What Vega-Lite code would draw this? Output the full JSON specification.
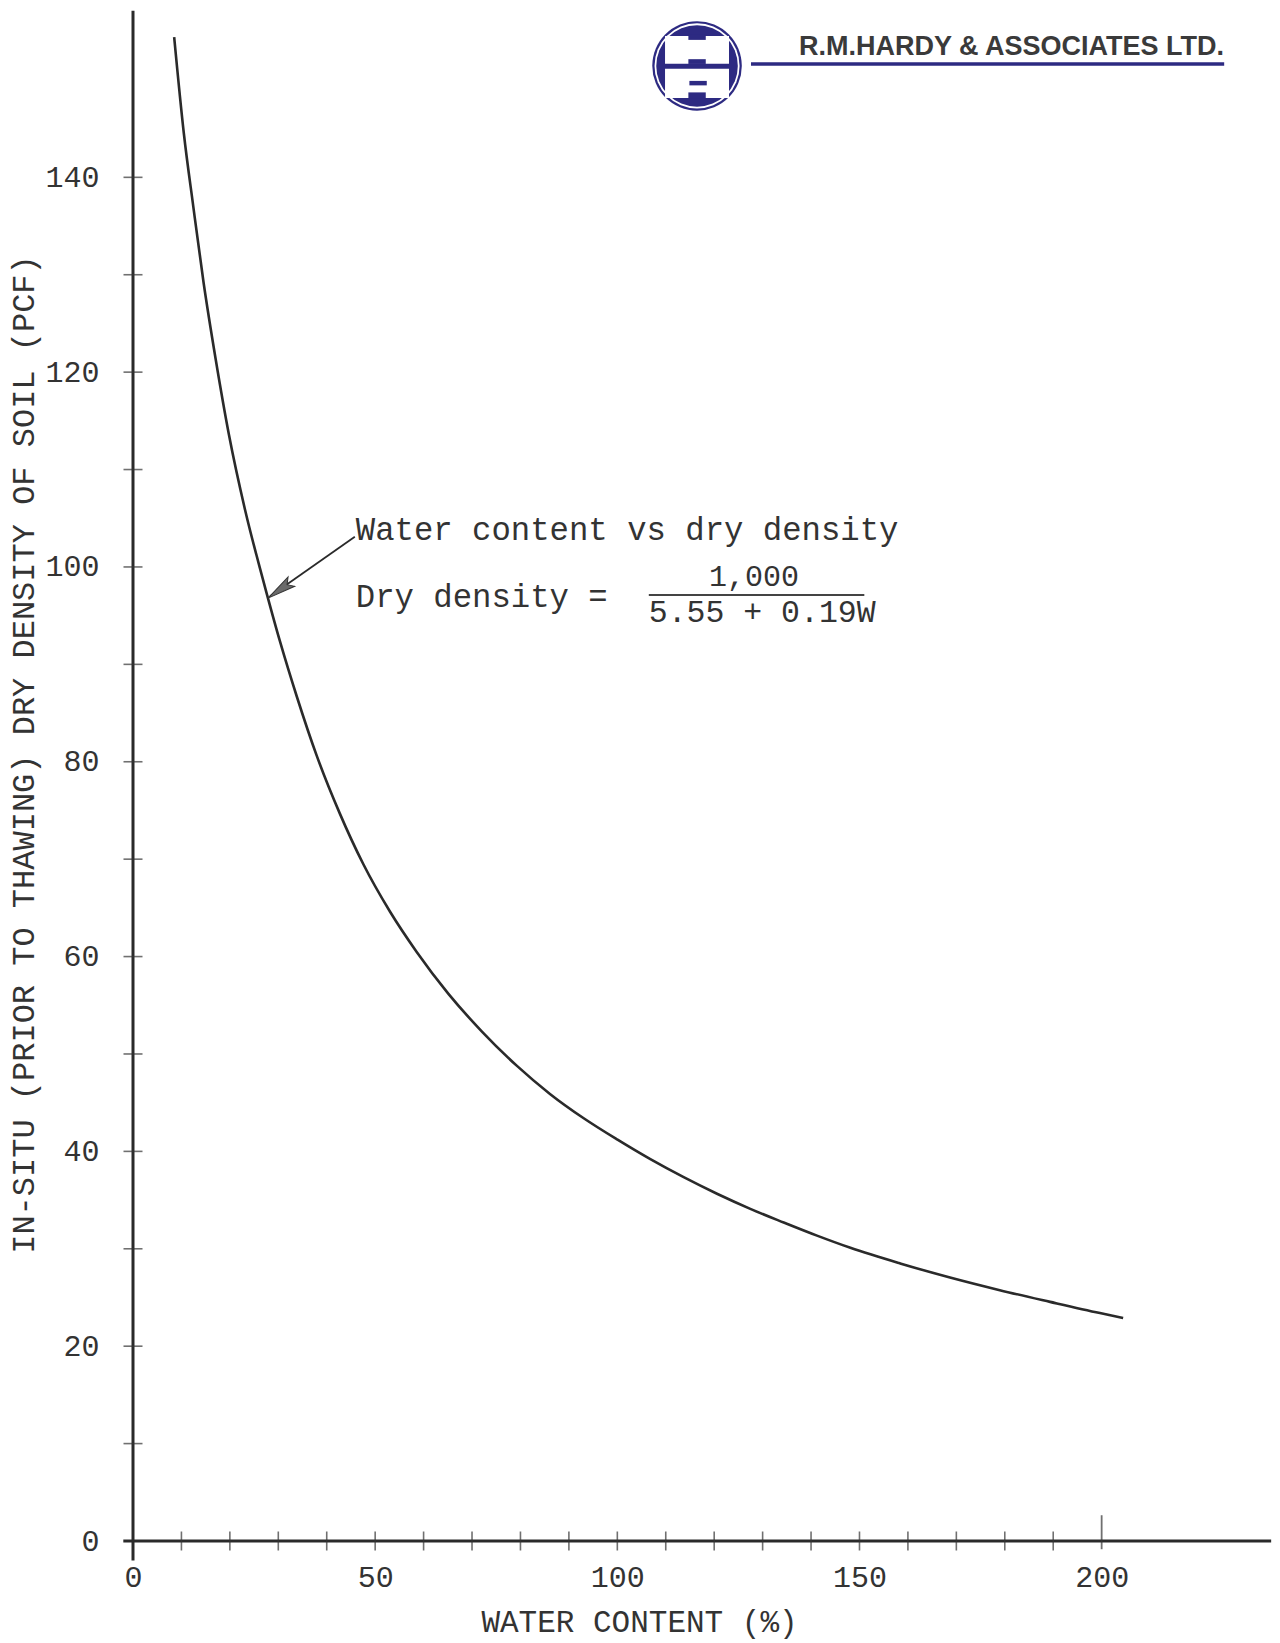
{
  "$schema": "https://vega.github.io/schema/vega-lite/v6.json",
  "width": 1143,
  "height": 1539,
  "autosize": {"type": "none"},
  "padding": {"left": 133, "top": 2, "right": 4, "bottom": 102},
  "background": "white",
  "config": {"view": {"stroke": null}, "font": "Liberation Mono"},
  "data": {"values": [{}]},
  "datasets": {
    "curve": [
      {"w": 8.5, "dens": 154.4},
      {"w": 10.5, "dens": 144.5},
      {"w": 12.45, "dens": 137.0},
      {"w": 14.57, "dens": 129.2},
      {"w": 17.08, "dens": 121.3},
      {"w": 19.8, "dens": 113.6},
      {"w": 23.12, "dens": 105.9},
      {"w": 26.84, "dens": 98.7},
      {"w": 30.38, "dens": 92.3},
      {"w": 33.82, "dens": 86.7},
      {"w": 37.95, "dens": 80.6},
      {"w": 42.69, "dens": 74.7},
      {"w": 47.54, "dens": 69.5},
      {"w": 53.08, "dens": 64.6},
      {"w": 58.54, "dens": 60.5},
      {"w": 65.09, "dens": 56.2},
      {"w": 72.05, "dens": 52.3},
      {"w": 79.22, "dens": 48.8},
      {"w": 86.09, "dens": 45.9},
      {"w": 93.06, "dens": 43.4},
      {"w": 100.04, "dens": 41.2},
      {"w": 106.82, "dens": 39.2},
      {"w": 113.7, "dens": 37.35},
      {"w": 120.58, "dens": 35.65},
      {"w": 127.46, "dens": 34.1},
      {"w": 134.35, "dens": 32.7},
      {"w": 141.23, "dens": 31.35},
      {"w": 148.12, "dens": 30.1},
      {"w": 158.4, "dens": 28.5},
      {"w": 168.69, "dens": 27.05},
      {"w": 178.97, "dens": 25.75},
      {"w": 189.36, "dens": 24.55},
      {"w": 199.65, "dens": 23.4},
      {"w": 204.44, "dens": 22.9}
    ],
    "xticks": [
      {"w": 10}, {"w": 20}, {"w": 30}, {"w": 40}, {"w": 50}, {"w": 60}, {"w": 70},
      {"w": 80}, {"w": 90}, {"w": 100}, {"w": 110}, {"w": 120}, {"w": 130},
      {"w": 140}, {"w": 150}, {"w": 160}, {"w": 170}, {"w": 180}, {"w": 190}
    ],
    "yticks": [
      {"dens": 10}, {"dens": 20}, {"dens": 30}, {"dens": 40}, {"dens": 50},
      {"dens": 60}, {"dens": 70}, {"dens": 80}, {"dens": 90}, {"dens": 100},
      {"dens": 110}, {"dens": 120}, {"dens": 130}, {"dens": 140}
    ],
    "logoWhite": [
      {"left": 109.85, "right": 123.06, "bottom": 151.67, "top": 154.52},
      {"left": 109.85, "right": 123.06, "bottom": 148.15, "top": 151.16}
    ],
    "logoNavy": [
      {"left": 114.67, "right": 118.26, "bottom": 154.11, "top": 154.62},
      {"left": 114.67, "right": 118.26, "bottom": 151.64, "top": 152.13},
      {"left": 114.88, "right": 118.47, "bottom": 149.44, "top": 149.9},
      {"left": 114.67, "right": 118.26, "bottom": 148.05, "top": 148.72}
    ]
  },
  "layer": [
    {
      "data": {"name": "curve"},
      "mark": {"type": "line", "interpolate": "monotone", "color": "#2a2a2a", "strokeWidth": 2.6},
      "encoding": {
        "x": {
          "field": "w",
          "type": "quantitative",
          "scale": {"domain": [0, 236], "nice": false, "zero": false},
          "axis": {
            "title": "WATER CONTENT (%)",
            "values": [0, 50, 100, 150, 200],
            "domain": false,
            "ticks": false,
            "tickSize": 0,
            "grid": false,
            "labelFont": "Liberation Mono",
            "labelFontSize": 30,
            "labelColor": "#333333",
            "labelPadding": 36,
            "labelBaseline": "middle",
            "labelFlush": false,
            "labelOverlap": false,
            "titleFont": "Liberation Mono",
            "titleFontSize": 31,
            "titleFontWeight": "normal",
            "titleColor": "#333333",
            "titleX": 506,
            "titleY": 81,
            "titleAlign": "center",
            "titleBaseline": "middle"
          }
        },
        "y": {
          "field": "dens",
          "type": "quantitative",
          "scale": {"domain": [0, 158], "nice": false, "zero": false},
          "axis": {
            "title": "IN-SITU (PRIOR TO THAWING) DRY DENSITY OF SOIL (PCF)",
            "values": [0, 20, 40, 60, 80, 100, 120, 140],
            "domain": false,
            "ticks": false,
            "tickSize": 0,
            "grid": false,
            "labelFont": "Liberation Mono",
            "labelFontSize": 30,
            "labelColor": "#333333",
            "labelPadding": 34,
            "labelAlign": "right",
            "labelBaseline": "middle",
            "labelFlush": false,
            "labelOverlap": false,
            "titleFont": "Liberation Mono",
            "titleFontSize": 32,
            "titleFontWeight": "normal",
            "titleColor": "#333333",
            "titleAngle": -90,
            "titleX": -110,
            "titleY": 752,
            "titleAlign": "center",
            "titleBaseline": "middle"
          }
        }
      }
    },
    {
      "mark": {"type": "rule", "color": "#2a2a2a", "strokeWidth": 3},
      "encoding": {
        "x": {"datum": 0},
        "y": {"datum": -2},
        "y2": {"datum": 157.1}
      }
    },
    {
      "mark": {"type": "rule", "color": "#2a2a2a", "strokeWidth": 3},
      "encoding": {
        "x": {"datum": -2},
        "x2": {"datum": 235},
        "y": {"datum": 0}
      }
    },
    {
      "data": {"name": "xticks"},
      "mark": {"type": "tick", "orient": "vertical", "size": 19, "thickness": 1.6, "color": "#333333"},
      "encoding": {
        "x": {"field": "w", "type": "quantitative"},
        "y": {"datum": 0}
      }
    },
    {
      "mark": {"type": "tick", "orient": "vertical", "size": 34, "thickness": 1.8, "color": "#333333"},
      "encoding": {
        "x": {"datum": 200},
        "y": {"datum": 0.9}
      }
    },
    {
      "data": {"name": "yticks"},
      "mark": {"type": "tick", "orient": "horizontal", "size": 19, "thickness": 1.6, "color": "#333333"},
      "encoding": {
        "x": {"datum": 0},
        "y": {"field": "dens", "type": "quantitative"}
      }
    },
    {
      "mark": {"type": "rule", "color": "#2a2a2a", "strokeWidth": 1.8},
      "encoding": {
        "x": {"datum": 45.8},
        "y": {"datum": 103.1},
        "x2": {"datum": 28.3},
        "y2": {"datum": 97.0}
      }
    },
    {
      "mark": {
        "type": "point",
        "shape": "M0,-1L0.38,0.9L0,0.55L-0.38,0.9Z",
        "size": 900,
        "angle": 234.7,
        "filled": true,
        "fill": "#6a6a6a",
        "stroke": "#333333",
        "strokeWidth": 1,
        "opacity": 1
      },
      "encoding": {
        "x": {"datum": 30.42},
        "y": {"datum": 97.69}
      }
    },
    {
      "mark": {"type": "text", "text": "Water content vs dry density", "align": "left", "baseline": "alphabetic", "font": "Liberation Mono", "fontSize": 32.3, "color": "#333333"},
      "encoding": {"x": {"datum": 46.0}, "y": {"datum": 102.8}}
    },
    {
      "mark": {"type": "text", "text": "Dry density =", "align": "left", "baseline": "alphabetic", "font": "Liberation Mono", "fontSize": 32.3, "color": "#333333"},
      "encoding": {"x": {"datum": 46.0}, "y": {"datum": 95.9}}
    },
    {
      "mark": {"type": "text", "text": "1,000", "align": "center", "baseline": "alphabetic", "font": "Liberation Mono", "fontSize": 30, "color": "#333333"},
      "encoding": {"x": {"datum": 128.2}, "y": {"datum": 98.05}}
    },
    {
      "mark": {"type": "rule", "color": "#444444", "strokeWidth": 2},
      "encoding": {
        "x": {"datum": 106.5},
        "x2": {"datum": 151.0},
        "y": {"datum": 97.13}
      }
    },
    {
      "mark": {"type": "text", "text": "5.55 + 0.19W", "align": "left", "baseline": "alphabetic", "font": "Liberation Mono", "fontSize": 31.5, "color": "#333333"},
      "encoding": {"x": {"datum": 106.5}, "y": {"datum": 94.35}}
    },
    {
      "mark": {"type": "point", "shape": "circle", "size": 8012, "filled": true, "color": "#2d2a82", "opacity": 1, "strokeWidth": 0},
      "encoding": {"x": {"datum": 116.46}, "y": {"datum": 151.44}}
    },
    {
      "mark": {"type": "point", "shape": "circle", "size": 7238, "filled": true, "color": "#ffffff", "opacity": 1, "strokeWidth": 0},
      "encoding": {"x": {"datum": 116.46}, "y": {"datum": 151.44}}
    },
    {
      "mark": {"type": "point", "shape": "circle", "size": 6648, "filled": true, "color": "#2d2a82", "opacity": 1, "strokeWidth": 0},
      "encoding": {"x": {"datum": 116.46}, "y": {"datum": 151.44}}
    },
    {
      "data": {"name": "logoWhite"},
      "mark": {"type": "rect", "color": "#ffffff"},
      "encoding": {
        "x": {"field": "left", "type": "quantitative"},
        "x2": {"field": "right"},
        "y": {"field": "bottom", "type": "quantitative"},
        "y2": {"field": "top"}
      }
    },
    {
      "data": {"name": "logoNavy"},
      "mark": {"type": "rect", "color": "#2d2a82"},
      "encoding": {
        "x": {"field": "left", "type": "quantitative"},
        "x2": {"field": "right"},
        "y": {"field": "bottom", "type": "quantitative"},
        "y2": {"field": "top"}
      }
    },
    {
      "mark": {"type": "rule", "color": "#2d2a82", "strokeWidth": 3.5},
      "encoding": {
        "x": {"datum": 127.6},
        "x2": {"datum": 225.3},
        "y": {"datum": 151.64}
      }
    },
    {
      "mark": {"type": "text", "text": "R.M.HARDY & ASSOCIATES LTD.", "align": "right", "baseline": "alphabetic", "font": "Liberation Sans", "fontWeight": "bold", "fontSize": 27, "color": "#3a3a3a"},
      "encoding": {"x": {"datum": 225.27}, "y": {"datum": 152.52}}
    }
  ]
}
